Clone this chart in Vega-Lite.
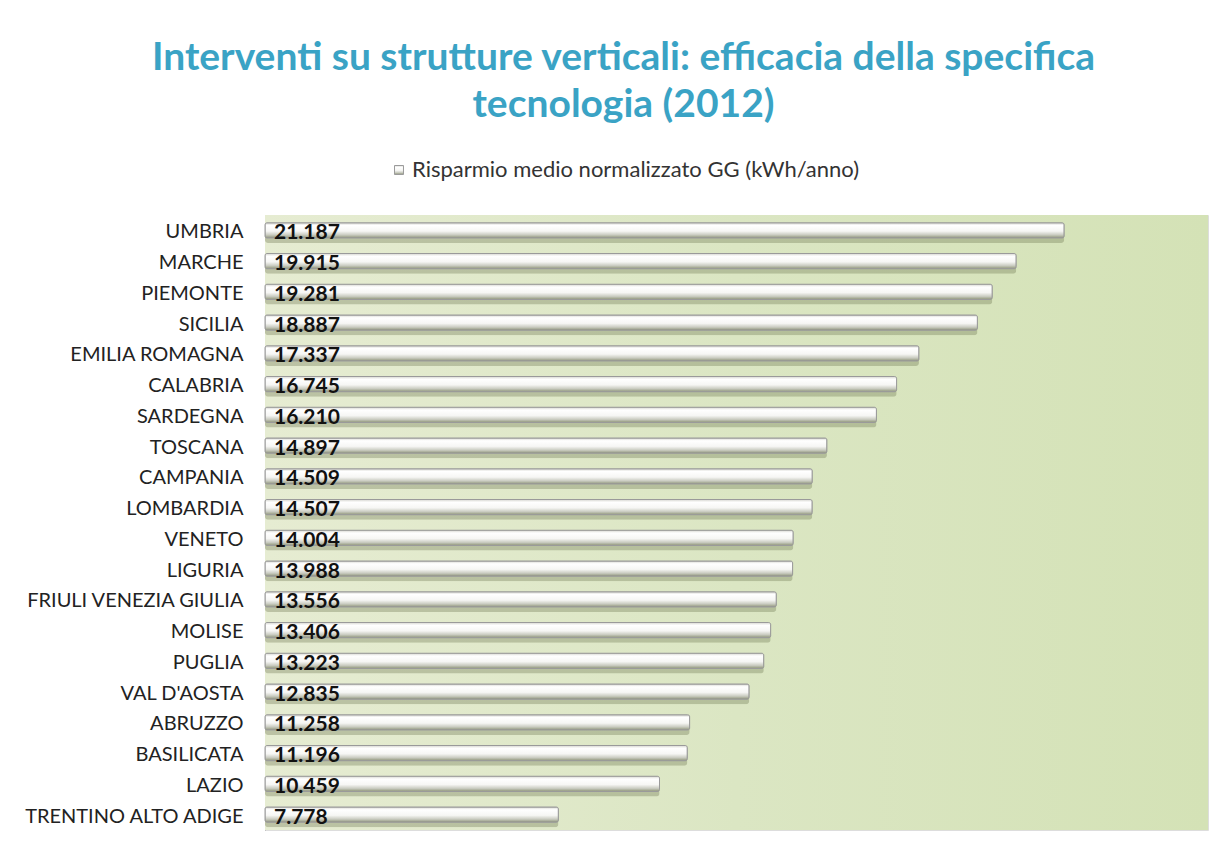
{
  "$schema": "https://vega.github.io/schema/vega-lite/v6.json",
  "width": 943,
  "height": 615,
  "autosize": {"type": "none"},
  "padding": {"left": 265, "top": 215, "right": 16, "bottom": 19},
  "background": "white",
  "title": {
    "text": ["Interventi su strutture verticali: efficacia della specifica", "tecnologia (2012)"],
    "font": "Lato",
    "fontSize": 39,
    "fontWeight": "bold",
    "color": "#3aa3c5",
    "anchor": "middle",
    "dx": -113,
    "offset": 34,
    "lineHeight": 47
  },
  "datasets": {
    "bg": [{"from": 0, "to": 25}],
    "regions": [
      {"region": "UMBRIA", "value": 21.187},
      {"region": "MARCHE", "value": 19.915},
      {"region": "PIEMONTE", "value": 19.281},
      {"region": "SICILIA", "value": 18.887},
      {"region": "EMILIA ROMAGNA", "value": 17.337},
      {"region": "CALABRIA", "value": 16.745},
      {"region": "SARDEGNA", "value": 16.210},
      {"region": "TOSCANA", "value": 14.897},
      {"region": "CAMPANIA", "value": 14.509},
      {"region": "LOMBARDIA", "value": 14.507},
      {"region": "VENETO", "value": 14.004},
      {"region": "LIGURIA", "value": 13.988},
      {"region": "FRIULI VENEZIA GIULIA", "value": 13.556},
      {"region": "MOLISE", "value": 13.406},
      {"region": "PUGLIA", "value": 13.223},
      {"region": "VAL D'AOSTA", "value": 12.835},
      {"region": "ABRUZZO", "value": 11.258},
      {"region": "BASILICATA", "value": 11.196},
      {"region": "LAZIO", "value": 10.459},
      {"region": "TRENTINO ALTO ADIGE", "value": 7.778}
    ]
  },
  "layer": [
    {
      "data": {"name": "bg"},
      "mark": {
        "type": "rect",
        "fill": {
          "gradient": "linear",
          "x1": 0, "y1": 0, "x2": 1, "y2": 0,
          "stops": [
            {"offset": 0, "color": "#e6ecd2"},
            {"offset": 0.5, "color": "#dbe6c3"},
            {"offset": 1, "color": "#d4e2b6"}
          ]
        }
      },
      "encoding": {
        "x": {"field": "from", "type": "quantitative", "scale": {"domain": [0, 25], "nice": false}, "axis": null},
        "x2": {"field": "to"}
      }
    },
    {
      "data": {"name": "regions"},
      "mark": {
        "type": "bar",
        "height": {"band": 0.55},
        "yOffset": 5,
        "color": "#6c7650",
        "opacity": 0.35,
        "cornerRadius": 3
      },
      "encoding": {
        "y": {"field": "region", "type": "nominal", "sort": null},
        "x": {"field": "value", "type": "quantitative"}
      }
    },
    {
      "data": {"name": "regions"},
      "mark": {
        "type": "bar",
        "height": {"band": 0.55},
        "cornerRadius": 2,
        "strokeWidth": 1,
        "fill": {
          "gradient": "linear",
          "x1": 0, "y1": 0, "x2": 0, "y2": 1,
          "stops": [
            {"offset": 0, "color": "#d6d6d0"},
            {"offset": 0.18, "color": "#ffffff"},
            {"offset": 0.55, "color": "#f6f6f4"},
            {"offset": 0.8, "color": "#c9cbc0"},
            {"offset": 1, "color": "#8e9478"}
          ]
        }
      },
      "encoding": {
        "y": {
          "field": "region",
          "type": "nominal",
          "sort": null,
          "axis": {
            "title": null,
            "labelFont": "Lato",
            "labelFontSize": 20,
            "labelColor": "#222222",
            "ticks": false,
            "domain": true,
            "domainColor": "#a0a0a0",
            "labelPadding": 22,
            "labelOffset": 2,
            "labelLimit": 300
          }
        },
        "x": {"field": "value", "type": "quantitative"},
        "stroke": {
          "datum": "Risparmio medio normalizzato GG (kWh/anno)",
          "type": "nominal",
          "scale": {"range": ["#9a9a9a"]},
          "legend": {
            "title": null,
            "orient": "none",
            "legendX": 123,
            "legendY": -56,
            "symbolType": "square",
            "symbolSize": 80,
            "symbolFillColor": "#f2f2f2",
            "symbolStrokeWidth": 1,
            "labelFont": "Lato",
            "labelFontSize": 22,
            "labelColor": "#333333",
            "labelOffset": 2,
            "labelLimit": 700
          }
        }
      }
    },
    {
      "data": {"name": "regions"},
      "mark": {
        "type": "text",
        "align": "left",
        "baseline": "middle",
        "dx": 9,
        "dy": 3,
        "font": "Lato",
        "fontSize": 21,
        "fontWeight": "bold",
        "color": "#111111"
      },
      "encoding": {
        "y": {"field": "region", "type": "nominal", "sort": null},
        "x": {"datum": 0, "type": "quantitative"},
        "text": {"field": "value", "type": "quantitative", "format": ".3f"}
      }
    }
  ]
}
